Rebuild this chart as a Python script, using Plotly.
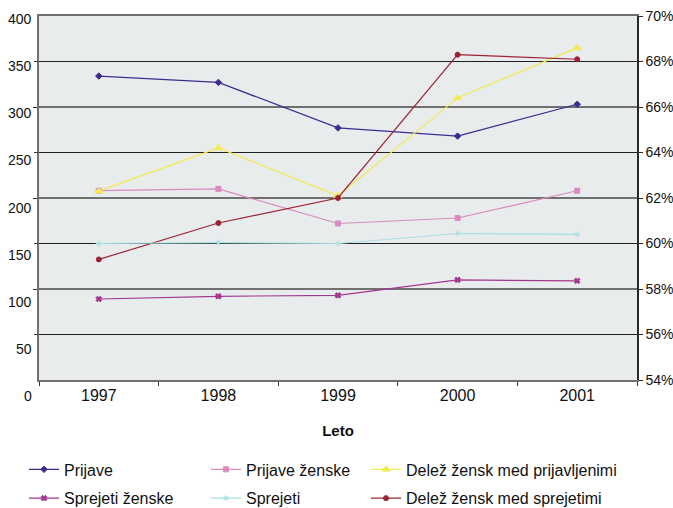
import plotly.graph_objects as go

# Years (category axis)
years = ["1997", "1998", "1999", "2000", "2001"]

# Counts (left axis)
prijave = [334, 327, 277, 268, 303]
prijave_zenske = [208, 210, 172, 178, 208]
sprejeti_zenske = [89, 92, 93, 110, 109]
sprejeti = [150, 151, 150, 161, 160]

# Shares of women in percent (right axis)
delez_prijavljeni = [62.3, 64.2, 62.1, 66.4, 68.6]
delez_sprejeti = [59.3, 60.9, 62.0, 68.3, 68.1]

# Axis tick labels
left_ticks = [0, 50, 100, 150, 200, 250, 300, 350, 400]
right_ticks = [54, 56, 58, 60, 62, 64, 66, 68, 70]
right_ticktext = [f"{v}%" for v in right_ticks]

FONT = "Liberation Sans, Arial, Helvetica, sans-serif"
BLACK_GRID = "#1e1e1e"
GRAY_GRID = "#707070"

# y and y3 share the same count scale; y3 carries the alternate grid lines
series = [
    # name, values, axis, colour, symbol, size, legend, group
    ("Prijave", prijave, "y", "#3d2b8f", "diamond", 5, "legend", "a"),
    ("Prijave ženske", prijave_zenske, "y", "#d98ac0", "square", 5, "legend2", "b"),
    ("Sprejeti ženske", sprejeti_zenske, "y3", "#a2378f", "x", 5, "legend", "c"),
    ("Sprejeti", sprejeti, "y3", "#a8dfe3", "asterisk-open", 5, "legend2", "d"),
    ("Delež žensk med prijavljenimi", delez_prijavljeni, "y2", "#f3eb4f", "triangle-up", 7, "legend3", "e"),
    ("Delež žensk med sprejetimi", delez_sprejeti, "y2", "#9b2335", "circle", 5, "legend3", "f"),
]

fig = go.Figure()
for name, vals, axis, color, symbol, size, leg, grp in series:
    fig.add_trace(go.Scatter(
        x=years, y=vals, name=name, yaxis=axis,
        mode="lines+markers",
        line=dict(color=color, width=1.2),
        marker=dict(color=color, symbol=symbol, size=size,
                    line=dict(color=color, width=1)),
        legend=leg, legendgroup=grp,
    ))

# Left-axis labels sit slightly below their grid lines
annotations = []
for v in left_ticks:
    annotations.append(dict(
        x=0, xref="paper", y=v, yref="y", xanchor="right", yanchor="middle",
        xshift=-5, yshift=-(3 + (400 - v) / 400 * 13),
        text=str(v), showarrow=False,
        font=dict(family=FONT, size=14, color="#111"),
    ))

legend_common = dict(
    orientation="v", yanchor="top", y=-0.199, xanchor="left",
    tracegroupgap=5, bgcolor="rgba(0,0,0,0)", itemwidth=30,
    font=dict(family=FONT, size=16, color="#111"),
)

fig.update_layout(
    width=673, height=508,
    margin=dict(l=39, r=36, t=16, b=128, autoexpand=False),
    paper_bgcolor="white",
    plot_bgcolor="#e9ecec",
    font=dict(family=FONT, size=15, color="#111"),
    annotations=annotations,
    legend=dict(legend_common, x=(24 - 39) / 598),
    legend2=dict(legend_common, x=(206 - 39) / 598),
    legend3=dict(legend_common, x=(366 - 39) / 598),
    xaxis=dict(
        type="category", categoryorder="array", categoryarray=years,
        range=[-0.5, 4.5], showgrid=False, zeroline=False,
        showline=True, mirror=True, linecolor=GRAY_GRID, linewidth=2,
        ticks="outside", tickson="boundaries", ticklen=4,
        tickcolor="#333", tickwidth=1.3,
        tickfont=dict(family=FONT, size=16, color="#111"),
        title=dict(text="<b>Leto</b>", standoff=22,
                   font=dict(family=FONT, size=15, color="#111")),
    ),
    yaxis=dict(
        range=[0, 400], zeroline=False,
        tickmode="array", tickvals=[100, 200, 300],
        showticklabels=False,
        showgrid=True, gridcolor=GRAY_GRID, gridwidth=2,
        ticks="outside", ticklen=4, tickcolor="#333", tickwidth=1.3,
        showline=True, linecolor=GRAY_GRID, linewidth=2,
    ),
    yaxis3=dict(
        overlaying="y", side="left", range=[0, 400], zeroline=False,
        tickmode="array", tickvals=[50, 150, 250, 350],
        showticklabels=False,
        showgrid=True, gridcolor=BLACK_GRID, gridwidth=1.3,
        ticks="outside", ticklen=4, tickcolor="#333", tickwidth=1.3,
        showline=False,
    ),
    yaxis2=dict(
        overlaying="y", side="right", range=[54, 70],
        tickmode="array", tickvals=right_ticks, ticktext=right_ticktext,
        showgrid=False, zeroline=False,
        showline=True, linecolor="#2a2a2a", linewidth=1.5,
        ticks="outside", ticklen=4, tickcolor="#2a2a2a", tickwidth=1.3,
        tickfont=dict(family=FONT, size=14, color="#111"),
    ),
)

fig.write_html("out.html")
